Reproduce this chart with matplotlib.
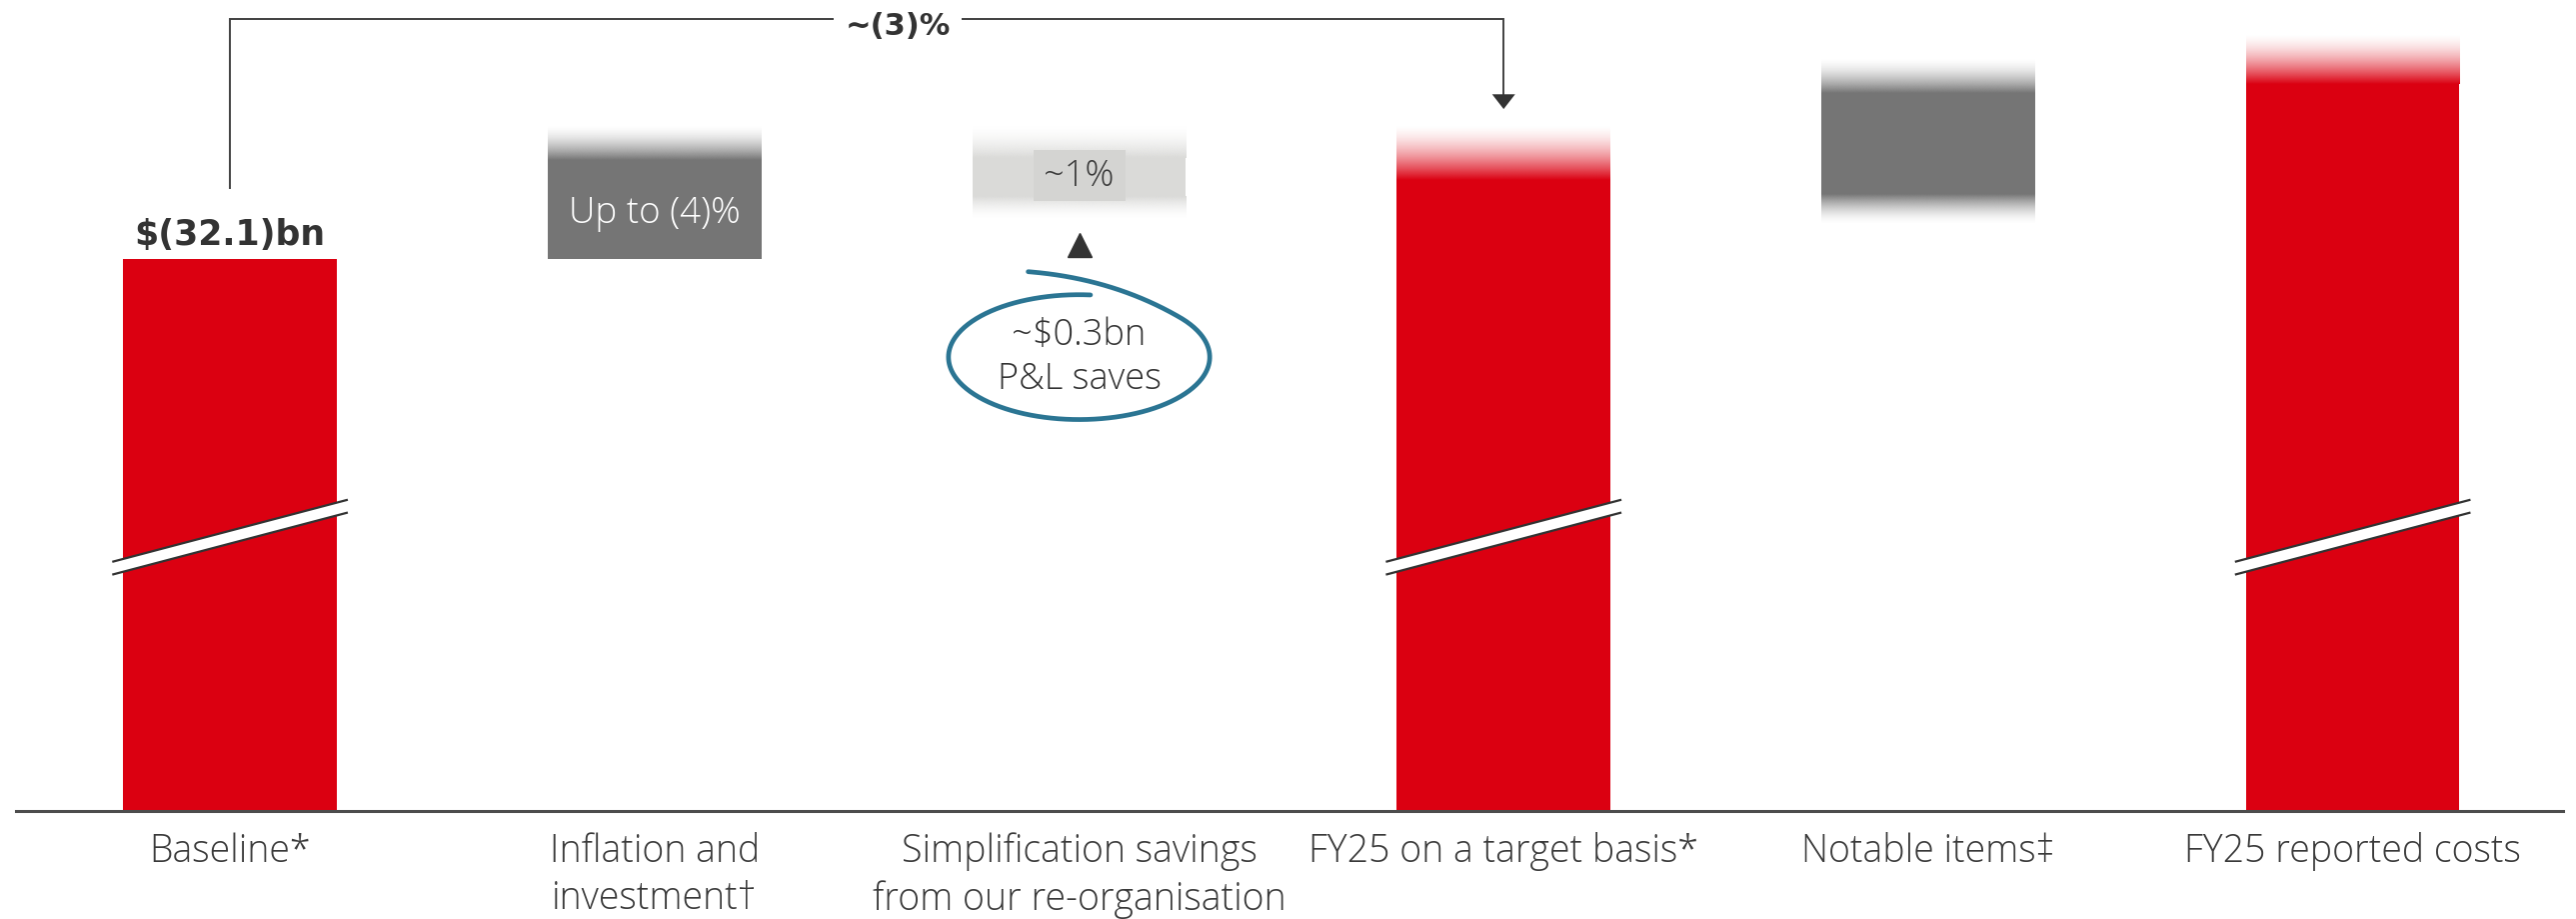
import numpy as np
import matplotlib.pyplot as plt
from matplotlib.colors import to_rgb
from matplotlib.patches import Polygon, Rectangle

plt.rcParams['font.family'] = ['Open Sans', 'DejaVu Sans']

# categories along the bottom
categories = ["Baseline*", "Inflation and\ninvestment\u2020",
              "Simplification savings\nfrom our re-organisation",
              "FY25 on a target basis*", "Notable items\u2021", "FY25 reported costs"]

# illustrative bar heights (chart is not to scale, red bars are broken)
solid_bottom = [0, 336, 374, 0, 375, 0]
solid_top = [336, 396, 397, 384, 437, 442]
fade_top = [336, 417, 417, 418, 458, 473]
fade_bottom = [0, 336, 360, 0, 357, 0]
bar_colors = ["#db0011", "#757575", "#dadad8", "#db0011", "#757575", "#db0011"]
broken = [True, False, False, True, False, True]

baseline_label = "$(32.1)bn"
inflation_label = "Up to (4)%"
simplification_label = "~1%"
saves_label = "~$0.3bn\nP&L saves"
bracket_label = "~(3)%"

TXT = "#333333"
BOLD = ['DejaVu Sans']
W = 0.503
PX = 1 / 258.4   # one horizontal "unit" in category spacing


def fade(ax, x0, x1, y_solid, y_clear, color):
    n = 256
    a = (1 - np.linspace(0, 1, n)) ** 1.6
    img = np.zeros((n, 1, 4))
    img[..., :3] = to_rgb(color)
    img[:, 0, 3] = a
    if y_clear > y_solid:
        ax.imshow(img, extent=[x0, x1, y_solid, y_clear], origin='lower',
                  aspect='auto', interpolation='bilinear', zorder=2)
    else:
        ax.imshow(img, extent=[x0, x1, y_clear, y_solid], origin='upper',
                  aspect='auto', interpolation='bilinear', zorder=2)


fig = plt.figure(figsize=(25.77, 9.2), dpi=100)
ax = fig.add_axes([0.0064, 0.1179, 0.9885, 0.8821])

x = np.arange(len(categories))
ax.bar(x, np.array(solid_top) - np.array(solid_bottom), bottom=solid_bottom,
       width=W, color=bar_colors, zorder=2)

for i in range(len(categories)):
    x0, x1 = x[i] - W / 2, x[i] + W / 2
    if fade_top[i] > solid_top[i]:
        fade(ax, x0, x1, solid_top[i], fade_top[i], bar_colors[i])
    if fade_bottom[i] < solid_bottom[i]:
        fade(ax, x0, x1, solid_bottom[i], fade_bottom[i], bar_colors[i])
    if broken[i]:
        xl, xr = x0 - 6.7 * PX, x1 + 6.7 * PX
        yl, yr, gap = 151.4, 189.2, 7.8
        ax.add_patch(Polygon([[xl, yl], [xr, yr], [xr, yr - gap], [xl, yl - gap]],
                             closed=True, facecolor='white', edgecolor='none', zorder=3))
        ax.plot([xl, xr], [yl, yr], color=TXT, lw=1.6, zorder=4, solid_capstyle='butt')
        ax.plot([xl, xr], [yl - gap, yr - gap], color=TXT, lw=1.6, zorder=4,
                solid_capstyle='butt')

# labels on/above bars
ax.text(x[0], 351, baseline_label, ha='center', va='center', fontsize=25,
        fontweight='bold', color=TXT, family=BOLD)
ax.text(x[1], 364, inflation_label, ha='center', va='center', fontsize=26.5,
        fontweight='light', color='white')
ax.add_patch(Rectangle((x[2] - 28 * PX, 371), 56 * PX, 31, facecolor='#d4d4d2',
                       edgecolor='none', zorder=3))
ax.text(x[2], 386.5, simplification_label, ha='center', va='center', fontsize=26,
        fontweight='light', color='#3a3a3a', zorder=4)

# up marker and circled annotation
ax.plot([x[2]], [344.5], marker='^', markersize=17, color=TXT, zorder=4)
cy = 276
th = np.radians(np.linspace(85, 400, 300))
ex = 79.5 * np.cos(th)
ey = 38 * np.sin(th)
p0 = np.array([ex[-1], ey[-1]])
c = np.array([20.0, 48.0])
p2 = np.array([-31.0, 52.0])
t = np.linspace(0, 1, 60)[:, None]
tail = (1 - t) ** 2 * p0 + 2 * (1 - t) * t * c + t ** 2 * p2
cx_all = np.concatenate([ex, tail[:, 0]]) * PX + x[2]
cy_all = np.concatenate([ey, tail[:, 1]]) + cy
ax.plot(cx_all, cy_all, color='#2b7593', lw=3.4, solid_capstyle='round', zorder=4)
ax.text(x[2], 276.5, saves_label, ha='center', va='center', fontsize=26,
        fontweight='light', color=TXT, linespacing=1.25, zorder=5)

# bracket from baseline to FY25 target
by = 482
ax.plot([x[0], x[0], x[3], x[3]], [379, by, by, 436], color='#404040', lw=1.4,
        zorder=4, solid_joinstyle='miter')
ax.add_patch(Polygon([[x[3] - 7 * PX, 436], [x[3] + 7 * PX, 436], [x[3], 427]],
                     closed=True, facecolor=TXT, edgecolor='none', zorder=5))
ax.text(1.573, 478, bracket_label, ha='center', va='center', fontsize=22,
        fontweight='bold', color=TXT, family=BOLD,
        bbox=dict(facecolor='white', edgecolor='none', pad=8), zorder=6)

ax.set_xlim(-0.503, 5.495)
ax.set_ylim(0, 494)
ax.set_xticks(x)
ax.set_xticklabels(categories, fontsize=27, fontweight='light', color='#3a3a3a',
                   linespacing=1.3)
ax.tick_params(axis='x', length=0, pad=15)
ax.set_yticks([])
for s in ['top', 'left', 'right']:
    ax.spines[s].set_visible(False)
ax.spines['bottom'].set_color('#4d4d4d')
ax.spines['bottom'].set_linewidth(2.2)

fig.savefig('out.png', dpi=100)
